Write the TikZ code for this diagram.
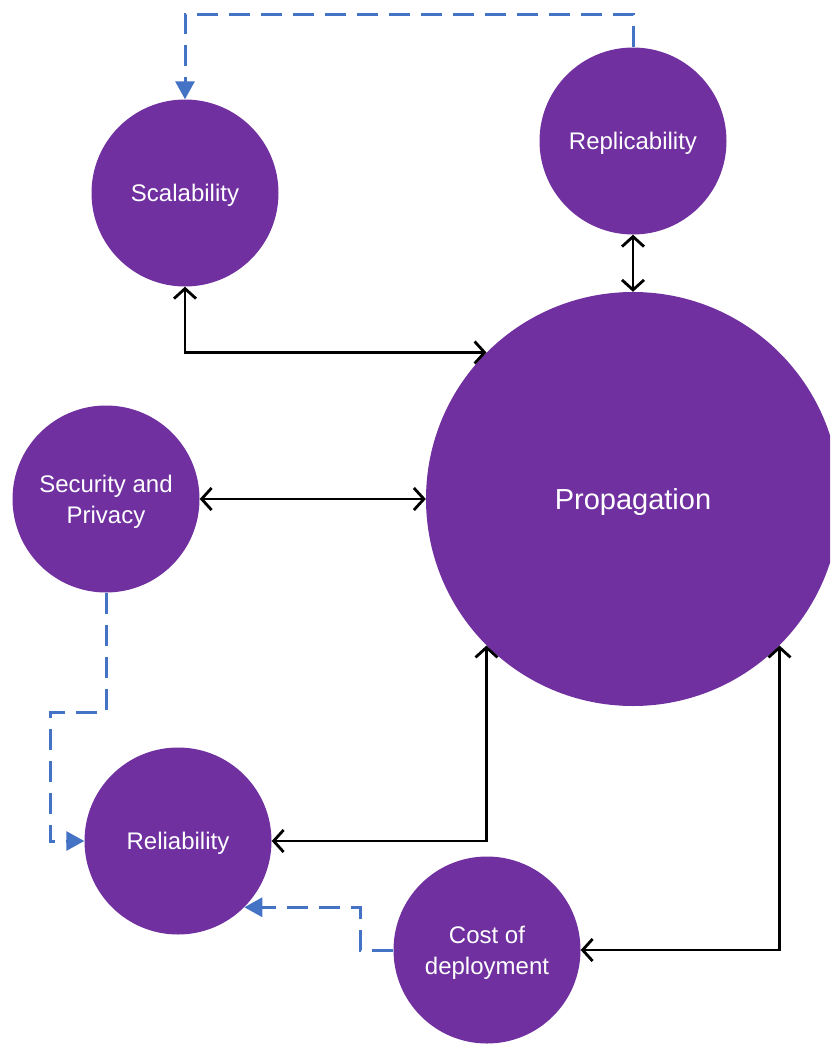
\documentclass[tikz,border=0pt]{standalone}
\usepackage{fontspec}
\setmainfont{Liberation Sans}
\usetikzlibrary{arrows.meta,calc}
\definecolor{nodepurple}{HTML}{7030A0}
\definecolor{linkblue}{HTML}{4472C4}
\begin{document}
\begin{tikzpicture}[x=1pt,y=-1pt,
  bubble/.style={circle,fill=nodepurple,text=white,inner sep=0pt,
    minimum size=187pt,align=center,font=\fontsize{24}{31}\selectfont,
    text depth=0pt},
  hub/.style={bubble,minimum size=414pt,font=\fontsize{29}{34}\selectfont},
  biarrow/.style={draw=black,line width=2.8pt,
    {Straight Barb[length=10pt,width=22pt,line width=2.8pt]}-{Straight Barb[length=10pt,width=22pt,line width=2.8pt]}},
  feedback/.style={draw=linkblue,line width=3pt,dash pattern=on 21pt off 11pt,
    -{Triangle[length=18pt,width=19pt]}}]
\useasboundingbox (0,0) rectangle (830,1044);
\clip (0,0) rectangle (830,1044);

% concept bubbles
\node[hub]    (prop) at (633,499) {Propagation};
\node[bubble] (scal) at (185,193) {Scalability};
\node[bubble] (repl) at (633,141) {Replicability};
\node[bubble] (sec)  at (106,499) {Security and\\Privacy};
\node[bubble] (rel)  at (178,841) {Reliability};
\node[bubble] (cost) at (487,950) {Cost of\\deployment};

% two-way links with the central bubble
\draw[biarrow] (scal.south) |- (prop.135);
\draw[biarrow] (repl.south) -- (prop.north);
\draw[biarrow] (sec.east) -- (prop.west);
\draw[biarrow] (prop.225) |- (rel.east);
\draw[biarrow] (prop.315) |- (cost.east);

% dashed feedback links
\coordinate (topbend) at (633,14);
\coordinate (leftbend) at (50,712);
\coordinate (lowbend) at (360,950);
\draw[feedback] (repl.north) -- (topbend) -| (scal.north);
\draw[feedback] (sec.south) |- (leftbend) |- (rel.west);
\draw[feedback] (cost.west) -- (lowbend) |- (rel.315);
\end{tikzpicture}
\end{document}
